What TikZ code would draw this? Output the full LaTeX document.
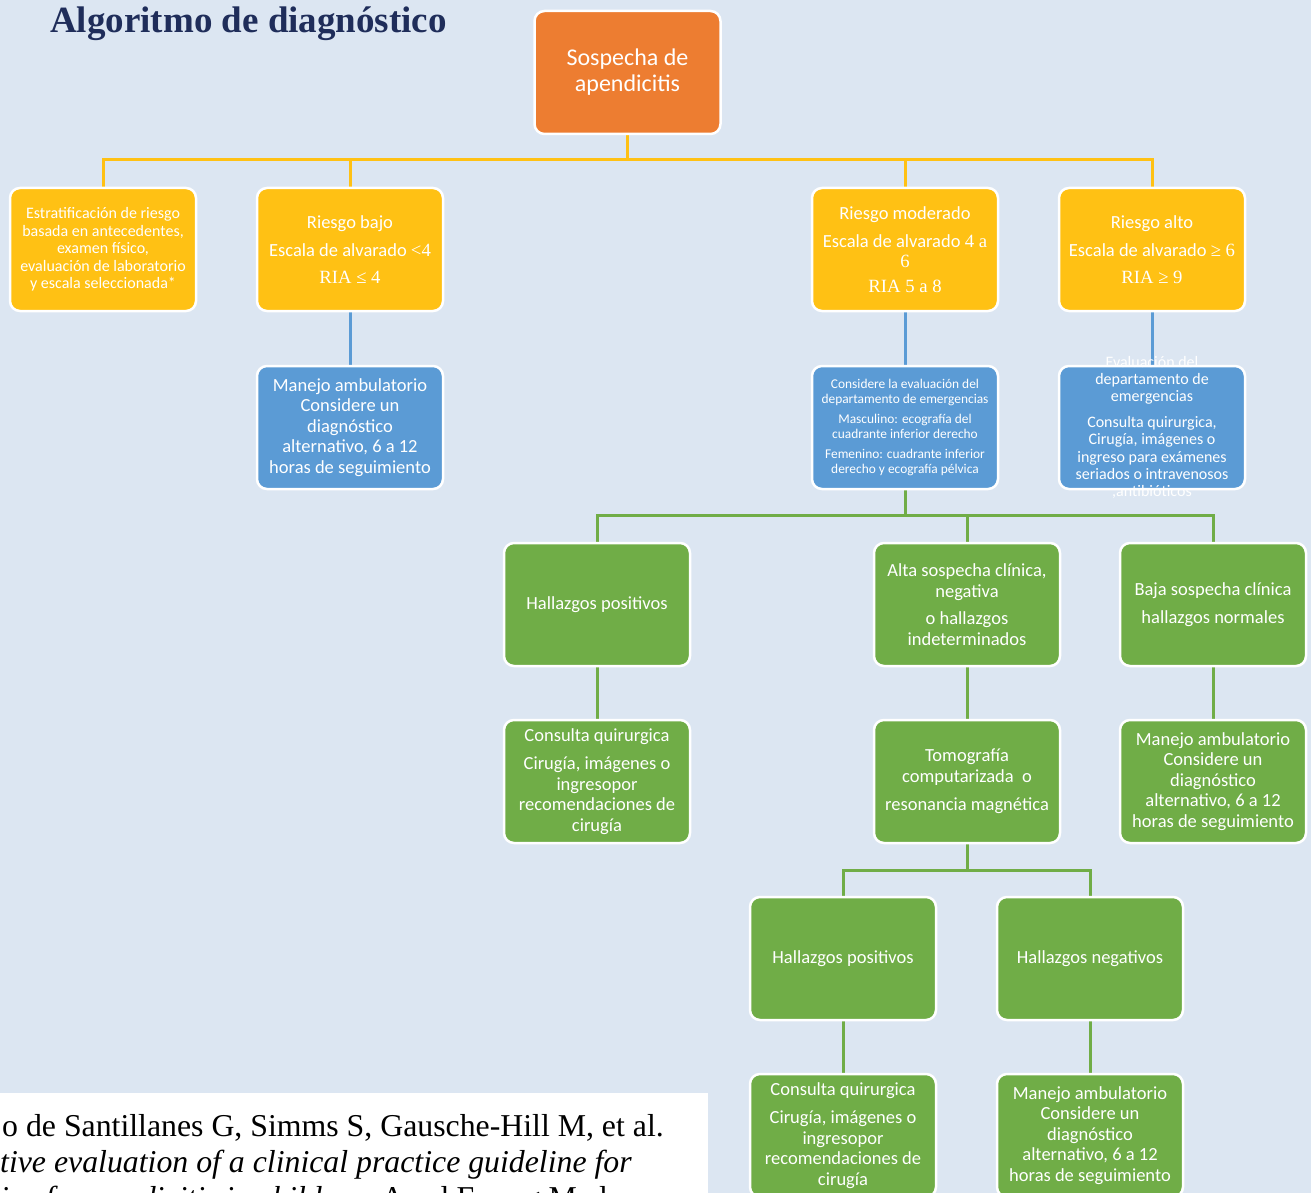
\documentclass[tikz,border=0pt]{standalone}
\usepackage{fontspec}
\setmainfont{Liberation Serif}
\setsansfont{Carlito}
\usetikzlibrary{backgrounds}
\definecolor{fondo}{HTML}{DCE6F2}
\definecolor{naranja}{HTML}{ED7D31}
\definecolor{amarillo}{HTML}{FFC114}
\definecolor{azul}{HTML}{5B9BD5}
\definecolor{verde}{HTML}{70AD47}
\definecolor{marino}{HTML}{1F2D5A}
\newcommand{\tms}[1]{{\rmfamily\fontsize{18.7}{20}\selectfont #1}}

\begin{document}
\begin{tikzpicture}[x=1pt, y=-1pt,
  caja/.style={draw=white, line width=2.5pt, rounded corners=10pt,
    minimum width=186pt, minimum height=123pt, inner sep=0pt,
    align=center, text=white, font=\sffamily\fontsize{18.5}{20.5}\selectfont},
  amar/.style={caja, fill=amarillo},
  azu/.style={caja, fill=azul},
  verd/.style={caja, fill=verde},
  linea/.style={line width=3pt},
  cita/.style={anchor=base west, inner sep=0pt, font=\fontsize{31.8}{36}\selectfont}]
  \clip (0,0) rectangle (1311,1193);
  \useasboundingbox (0,0) rectangle (1311,1193);

  \node[anchor=base west, inner sep=0pt, text=marino,
    font=\bfseries\fontsize{37}{42}\selectfont] (titulo) at (50,33) {Algoritmo de diagnóstico};

  \node[caja, fill=naranja, font=\sffamily\fontsize{24}{26}\selectfont] (sospecha) at (627.5,72.5)
    {Sospecha de\\apendicitis};

  \node[amar, font=\sffamily\fontsize{16}{17.5}\selectfont] (estrat) at (103,249.5)
    {Estratificación de riesgo\\basada en antecedentes,\\examen físico,\\evaluación de laboratorio\\y escala seleccionada*};
  \node[amar] (bajo) at (350,249.5)
    {Riesgo bajo\\[8pt]Escala de alvarado \tms{<4}\\[6pt]\tms{RIA ≤ 4}};
  \node[amar] (moderado) at (905,249.5)
    {Riesgo moderado\\[7pt]Escala de alvarado \tms{4 a}\\\tms{6}\\[4pt]\tms{RIA 5 a 8}};
  \node[amar] (alto) at (1152,249.5)
    {Riesgo alto\\[8pt]Escala de alvarado \tms{≥ 6}\\[6pt]\tms{RIA ≥ 9}};

  \node[azu] (manejo) at (350,427.5)
    {Manejo ambulatorio\\Considere un\\diagnóstico\\alternativo, 6 a 12\\horas de seguimiento};
  \node[azu, font=\sffamily\fontsize{13.4}{15.5}\selectfont] (considere) at (905,427.5)
    {Considere la evaluación del\\departamento de emergencias\\[4pt]Masculino: ecografía del\\cuadrante inferior derecho\\[4pt]Femenino: cuadrante inferior\\derecho y ecografía pélvica};
  \node[azu] (evalua) at (1152,427.5) {};
  \node[align=center, text=white, inner sep=0pt, font=\sffamily\fontsize{16}{17.4}\selectfont]
    (evaluatxt) at (evalua) {Evaluación del\\departamento de\\emergencias\\[8pt]Consulta quirurgica,\\Cirugía, imágenes o\\ingreso para exámenes\\seriados o intravenosos\\,antibióticos};

  \node[verd] (hpos) at (597,604.5) {Hallazgos positivos};
  \node[verd] (alta) at (967,604.5)
    {Alta sospecha clínica,\\negativa\\[7pt]o hallazgos\\indeterminados};
  \node[verd] (baja) at (1213,604.5) {Baja sospecha clínica\\[7pt]hallazgos normales};

  \node[verd] (consulta) at (597,781.5)
    {Consulta quirurgica\\[8pt]Cirugía, imágenes o\\ingresopor\\recomendaciones de\\cirugía};
  \node[verd] (tomo) at (967,781.5)
    {Tomografía\\computarizada\ \ o\\[8pt]resonancia magnética};
  \node[verd] (manejob) at (1213,781.5)
    {Manejo ambulatorio\\Considere un\\diagnóstico\\alternativo, 6 a 12\\horas de seguimiento};

  \node[verd] (hpos2) at (843,958.5) {Hallazgos positivos};
  \node[verd] (hneg) at (1090,958.5) {Hallazgos negativos};
  \node[verd] (consulta2) at (843,1135.5)
    {Consulta quirurgica\\[8pt]Cirugía, imágenes o\\ingresopor\\recomendaciones de\\cirugía};
  \node[verd] (manejo2) at (1090,1135.5)
    {Manejo ambulatorio\\Considere un\\diagnóstico\\alternativo, 6 a 12\\horas de seguimiento};

  \fill[white] (0,1093) rectangle (708,1200);
  \node[cita] (cita1) at (2,1136) {o de Santillanes G, Simms S, Gausche-Hill M, et al.};
  \node[cita] (cita2) at (0,1172) {\itshape tive evaluation of a clinical practice guideline for};
  \node[cita] (cita3) at (0,1208) {\itshape is of appendicitis in children. \upshape Acad Emerg Med.};

  \begin{pgfonlayer}{background}
    \fill[fondo] (0,0) rectangle (1311,1193);
    \coordinate (bus1) at (627.5,160);
    \coordinate (bus2) at (905,515);
    \coordinate (bus3) at (967,870);
    \draw[linea, amarillo] (sospecha) -- (bus1);
    \foreach \n in {estrat,bajo,moderado,alto}
      \draw[linea, amarillo] (bus1) -| (\n);
    \foreach \a/\b in {bajo/manejo,moderado/considere,alto/evalua}
      \draw[linea, azul] (\a) -- (\b);
    \draw[linea, verde] (considere) -- (bus2);
    \foreach \n in {hpos,alta,baja}
      \draw[linea, verde] (bus2) -| (\n);
    \draw[linea, verde] (tomo) -- (bus3);
    \foreach \n in {hpos2,hneg}
      \draw[linea, verde] (bus3) -| (\n);
    \foreach \a/\b in {hpos/consulta,alta/tomo,baja/manejob,hpos2/consulta2,hneg/manejo2}
      \draw[linea, verde] (\a) -- (\b);
  \end{pgfonlayer}
\end{tikzpicture}
\end{document}
